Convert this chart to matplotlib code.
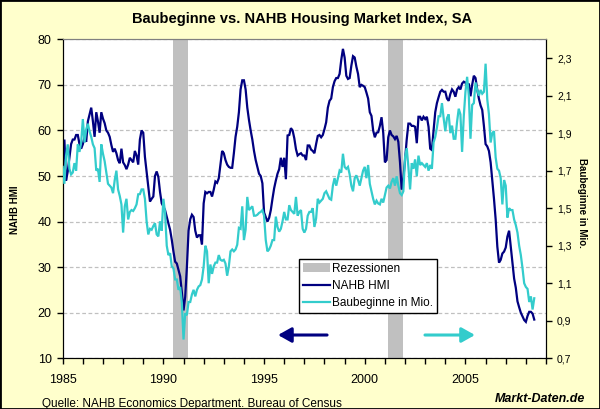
import matplotlib
matplotlib.use('Agg')
import matplotlib.pyplot as plt
import numpy as np
from matplotlib.patches import Patch, Rectangle
from matplotlib.lines import Line2D

plt.rcParams['font.family'] = ['Liberation Sans', 'DejaVu Sans']

# ---------------- data (monthly, starting Jan 1985) ----------------
start_year = 1985

hmi = [
    53, 58, 49, 51, 54, 57, 58, 58, 59, 59, 57, 56,              # 1985
    57, 58.5, 57.5, 62, 63.5, 65, 62, 58.6, 64, 62, 59.5, 64,    # 1986
    62.6, 61.6, 60, 59.5, 58.6, 56.8, 55.3, 56, 55, 53.5, 52.8, 56,  # 1987
    53, 52.4, 51.5, 52.5, 54, 53.5, 53, 55.5, 54.5, 52.5, 58, 60,    # 1988
    59.5, 54.2, 51, 47.6, 44.4, 45, 45.5, 50, 51, 49.8, 46.5, 44,    # 1989
    43.3, 42.5, 41, 39.6, 38.2, 36, 33.4, 31.2, 30.8, 29.4, 28, 24.5,  # 1990
    20.5, 23.5, 30, 38, 40.5, 41.5, 41, 38, 36.5, 37, 37, 35,        # 1991
    44, 46.5, 46.2, 46.5, 46.5, 45.5, 47, 48.8, 48.5, 49.5, 52.5, 55.5,  # 1992
    55, 53.5, 52.5, 52, 51.8, 51.8, 55, 58.6, 60.8, 64, 69, 71,      # 1993
    71, 69, 65, 62.3, 60, 58, 55.5, 53.5, 52, 50.5, 50, 48.4,        # 1994
    42, 41, 40, 40.8, 42.5, 45, 47.3, 49, 50.5, 51.5, 54, 52,        # 1995
    54, 49.3, 58.9, 59, 60.5, 60, 58.3, 55.9, 54.5, 54.8, 55, 54.5,  # 1996
    54.5, 53.5, 56.7, 56.7, 55.8, 55.5, 55, 57, 58.8, 59, 58.5, 59,  # 1997
    60.3, 61.8, 65, 66.5, 67, 69.5, 70.8, 71.5, 71.5, 72.4, 75.5, 77.9,  # 1998
    76, 72, 71.3, 71.5, 74.2, 76.3, 76, 74, 72.4, 69.5, 70, 69.8,    # 1999
    69.5, 68.3, 67, 64, 63.2, 60, 58.5, 59.5, 59.6, 61, 62.9, 59.5,  # 2000
    53, 53.5, 58.5, 60, 59, 58.7, 58.1, 58.8, 57.5, 53, 47, 49.5,    # 2001
    53.5, 58, 61.5, 61.5, 61, 61, 60.8, 57.2, 63, 63, 62.2, 63,      # 2002
    62.5, 63, 60.8, 56, 55.7, 60, 64, 66, 67.3, 68.5, 68.9, 68.5,    # 2003
    68.5, 67, 66.5, 68, 69, 68.5, 67.4, 69, 69.5, 69, 70.3, 70.7,    # 2004
    70.5, 69.5, 70.3, 67.5, 70, 72, 71.5, 69, 67, 65.5, 64.5, 61,    # 2005
    57, 56.5, 55.5, 53, 49, 45, 40.5, 34.5, 31, 31.6, 33, 33.4,      # 2006
    34.3, 36.7, 38, 34.5, 31, 27.5, 25.5, 22.5, 21.2, 20, 19.2, 18.4,  # 2007
    18, 19.3, 20.2, 20.2, 19.8, 18.5,                                 # 2008
]

starts = [
    1.72, 1.63, 1.78, 1.84, 1.71, 1.68, 1.69, 1.74, 1.70, 1.84, 1.80, 1.85,   # 1985
    1.975, 1.85, 1.92, 1.95, 1.91, 1.88, 1.84, 1.82, 1.70, 1.71, 1.64, 1.84,  # 1986
    1.79, 1.75, 1.69, 1.63, 1.62, 1.61, 1.58, 1.65, 1.70, 1.60, 1.565, 1.52,  # 1987
    1.37, 1.51, 1.55, 1.44, 1.48, 1.49, 1.485, 1.50, 1.52, 1.574, 1.575, 1.60,  # 1988
    1.60, 1.55, 1.43, 1.36, 1.39, 1.385, 1.405, 1.42, 1.36, 1.35, 1.43, 1.38,  # 1989
    1.55, 1.475, 1.30, 1.25, 1.26, 1.19, 1.18, 1.12, 1.12, 1.065, 1.08, 0.995,  # 1990
    0.80, 0.94, 0.93, 1.0, 1.0, 1.04, 1.065, 1.03, 1.065, 1.083, 1.09, 1.12,  # 1991
    1.19, 1.30, 1.27, 1.10, 1.20, 1.15, 1.19, 1.21, 1.21, 1.25, 1.225, 1.22,  # 1992
    1.225, 1.205, 1.14, 1.19, 1.27, 1.28, 1.27, 1.28, 1.305, 1.395, 1.39, 1.51,  # 1993
    1.33, 1.385, 1.56, 1.49, 1.50, 1.51, 1.46, 1.46, 1.465, 1.475, 1.48, 1.49,  # 1994
    1.46, 1.33, 1.27, 1.28, 1.30, 1.33, 1.33, 1.455, 1.40, 1.375, 1.39, 1.43,  # 1995
    1.48, 1.44, 1.44, 1.516, 1.49, 1.48, 1.47, 1.56, 1.46, 1.48, 1.49, 1.39,  # 1996
    1.37, 1.39, 1.46, 1.48, 1.48, 1.50, 1.40, 1.445, 1.55, 1.53, 1.54, 1.55,  # 1997
    1.58, 1.59, 1.57, 1.55, 1.545, 1.62, 1.66, 1.62, 1.66, 1.70, 1.69, 1.79,  # 1998
    1.72, 1.71, 1.72, 1.68, 1.62, 1.59, 1.66, 1.675, 1.65, 1.62, 1.66, 1.70,  # 1999
    1.72, 1.66, 1.73, 1.63, 1.59, 1.55, 1.52, 1.54, 1.525, 1.52, 1.55, 1.53,  # 2000
    1.57, 1.61, 1.62, 1.605, 1.64, 1.66, 1.62, 1.67, 1.62, 1.58, 1.57, 1.59,  # 2001
    1.77, 1.82, 1.72, 1.60, 1.74, 1.71, 1.76, 1.67, 1.78, 1.73, 1.74, 1.73,  # 2002
    1.72, 1.74, 1.70, 1.73, 1.71, 1.85, 1.88, 1.93, 1.99, 1.99, 2.06, 1.98,  # 2003
    1.91, 1.98, 2.00, 1.90, 1.94, 1.87, 1.87, 1.96, 2.03, 2.00, 1.80, 1.99,  # 2004
    2.12, 2.20, 2.10, 1.87, 2.05, 2.06, 2.17, 2.13, 2.10, 2.13, 2.11, 2.12,  # 2005
    2.27, 2.08, 2.00, 1.85, 1.90, 1.91, 1.77, 1.71, 1.70, 1.66, 1.52, 1.65,  # 2006
    1.62, 1.45, 1.50, 1.49, 1.49, 1.44, 1.41, 1.37, 1.30, 1.25, 1.18, 1.10,  # 2007
    1.08, 1.07, 1.00, 1.03, 0.96, 1.02,                                        # 2008
]

rec_start = [1990.5, 2001.17]
rec_end = [1991.2, 2001.88]

x_major = [1985, 1990, 1995, 2000, 2005]
left_ticks = [10, 20, 30, 40, 50, 60, 70, 80]
right_ticks = [0.7, 0.9, 1.1, 1.3, 1.5, 1.7, 1.9, 2.1, 2.3]
right_labels = ['0,7', '0,9', '1,1', '1,3', '1,5', '1,7', '1,9', '2,1', '2,3']

title = 'Baubeginne vs. NAHB Housing Market Index, SA'
label_left = 'NAHB HMI'
label_right = 'Baubeginne in Mio.'
legend_labels = ['Rezessionen', 'NAHB HMI', 'Baubeginne in Mio.']
source = 'Quelle: NAHB Economics Department. Bureau of Census'
brand = 'Markt-Daten.de'

# ---------------- styling ----------------
NAVY = '#000080'
CYAN = '#33CCCC'
GRAY = '#C0C0C0'
BG = '#FFFFCC'

t_hmi = start_year + np.arange(len(hmi)) / 12.0
t_st = start_year + np.arange(len(starts)) / 12.0

fig = plt.figure(figsize=(6, 4.09), dpi=100, facecolor=BG)
ax = fig.add_axes([62.7 / 600, 1 - 358.3 / 409, (546 - 62.7) / 600, (358.3 - 39.3) / 409])
ax.set_facecolor('white')

for s, e in zip(rec_start, rec_end):
    ax.axvspan(s, e, color=GRAY, lw=0, zorder=1)

ax.plot(t_hmi, hmi, color=NAVY, lw=1.6, zorder=3, solid_joinstyle='miter')
ax.set_xlim(1985, 2009)
ax.set_ylim(10, 80)
ax.set_yticks(left_ticks)
ax.set_axisbelow(True)
ax.grid(axis='y', color=GRAY, linestyle=(0, (3, 2)), lw=0.9)
ax.set_xticks(x_major)
ax.set_xticks(np.arange(1985, 2010), minor=True)
ax.tick_params(axis='y', direction='out', length=4, labelsize=9, pad=4, width=1)
ax.tick_params(axis='x', which='both', direction='out', length=4, labelsize=9, pad=7, width=1)

ax2 = ax.twinx()
ax2.plot(t_st, starts, color=CYAN, lw=1.6, zorder=3, solid_joinstyle='miter')
ax2.set_ylim(0.7, 2.4)
ax2.set_yticks(right_ticks)
ax2.set_yticklabels(right_labels)
ax2.tick_params(axis='y', direction='out', length=4, labelsize=7.5, pad=4, width=1)

for a in (ax, ax2):
    a.spines['top'].set_color('#808080')
    a.spines['left'].set_color('black')
    a.spines['right'].set_color('black')
    a.spines['bottom'].set_color('black')

handles = [
    Patch(facecolor=GRAY, edgecolor='none', label=legend_labels[0]),
    Line2D([], [], color=NAVY, lw=1.6, label=legend_labels[1]),
    Line2D([], [], color=CYAN, lw=1.6, label=legend_labels[2]),
]
leg = ax2.legend(handles=handles, loc='lower left', bbox_to_anchor=(0.489, 0.143),
                 fontsize=8.5, frameon=True, fancybox=False, edgecolor='black',
                 framealpha=1, borderpad=0.3, labelspacing=0.45, handlelength=2.3,
                 handletextpad=0.2, borderaxespad=0)
leg.get_frame().set_linewidth(1)

# direction arrows
ax2.annotate('', xy=(0.4455, 0.073), xytext=(0.547, 0.073), xycoords='axes fraction',
             arrowprops=dict(arrowstyle='-|>,head_length=0.8,head_width=0.45',
                             color=NAVY, lw=2.2, shrinkA=0, shrinkB=0))
ax2.annotate('', xy=(0.853, 0.073), xytext=(0.7496, 0.073), xycoords='axes fraction',
             arrowprops=dict(arrowstyle='-|>,head_length=0.8,head_width=0.45',
                             color=CYAN, lw=2.2, shrinkA=0, shrinkB=0))

fig.text(302 / 600, 1 - 19 / 409, title, ha='center', va='center', fontsize=10.5, fontweight='bold')
fig.text(15 / 600, 1 - 210 / 409, label_left, rotation=90, ha='center', va='center',
         fontsize=7, fontweight='bold')
fig.text(581.7 / 600, 1 - 203 / 409, label_right, rotation=-90, ha='center', va='center',
         fontsize=7, fontweight='bold')
fig.text(42 / 600, 1.5 / 409, source, ha='left', va='baseline', fontsize=8.5)
fig.text(585 / 600, 7.5 / 409, brand, ha='right', va='baseline', fontsize=9,
         fontweight='bold', fontstyle='italic')

fig.patches.append(Rectangle((0, 0), 1, 1, transform=fig.transFigure, fill=False,
                             edgecolor='black', lw=2))

fig.savefig('out.png', dpi=100, facecolor=BG)
